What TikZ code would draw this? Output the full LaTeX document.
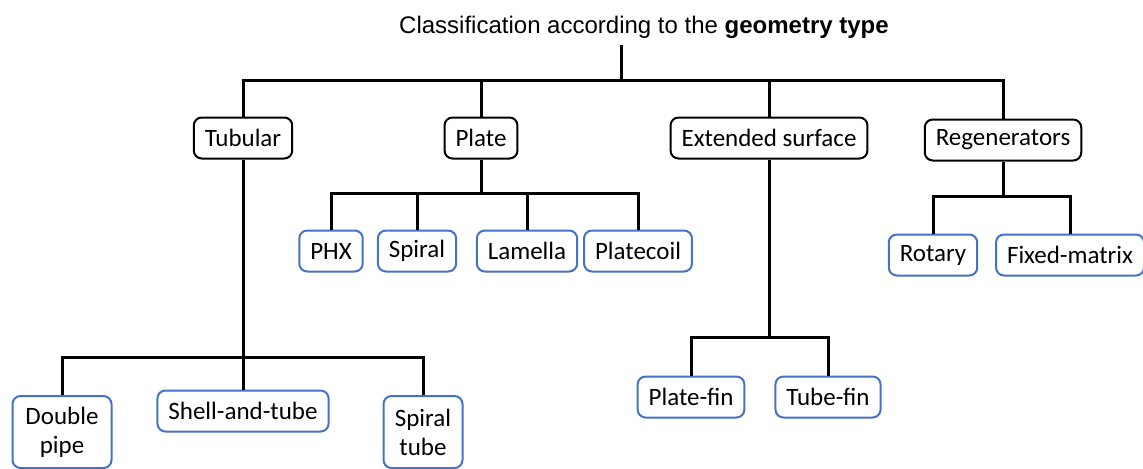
\documentclass[tikz,border=0pt]{standalone}
\usepackage{fontspec}
\setmainfont{Carlito}
\newfontfamily\headfont{Liberation Sans}
\usetikzlibrary{positioning,calc}
\definecolor{ink}{HTML}{000000}
\definecolor{leafblue}{HTML}{4472C4}
\tikzset{
  group/.style={draw=ink,rounded corners=4pt,line width=1pt,minimum height=20.5pt,inner xsep=5.5pt,font=\fontsize{12.5}{14.6}\selectfont,text=ink},
  leaf/.style={group,draw=leafblue},
  twoline/.style={leaf,align=center,minimum height=36pt,minimum width=49.5pt},
  link/.style={line width=1.5pt,draw=ink}
}
\begin{document}
\begin{tikzpicture}[x=0.5pt,y=-0.5pt]
  \useasboundingbox (0,0) rectangle (1143,468);
  \node[font=\headfont\fontsize{12}{14.4}\selectfont] (title) at (644,27) {Classification according to the \textbf{geometry type}};

  % first level
  \node[group] (tub) at (243,138) {Tubular};
  \node[group] (plate) at (481,138) {Plate};
  \node[group] (ext) at (769,138) {Extended surface};
  \node[group] (reg) at (1003,140) {Regenerators};

  % plate family
  \node[leaf] (phx) at (331,251) {PHX};
  \node[leaf] (spiral) at (417,251) {Spiral};
  \node[leaf] (lamella) at (527,251) {Lamella};
  \node[leaf] (platecoil) at (638,251) {Platecoil};

  % tubular family
  \node[twoline] (dpipe) at (62,432) {Double\\pipe};
  \node[leaf] (shell) at (243,411) {Shell-and-tube};
  \node[twoline,minimum width=39.5pt] (stube) at (423,432) {Spiral\\tube};

  % extended surface family
  \node[leaf] (pfin) at (691,397) {Plate-fin};
  \node[leaf] (tfin) at (828,397) {Tube-fin};

  % regenerators family
  \node[leaf] (rotary) at (933,255) {Rotary};
  \node[leaf] (fixed) at (1070,255) {Fixed-matrix};

  \coordinate (busA) at (621,80);
  \coordinate (busP) at (481,193);
  \coordinate (busT) at (243,357);
  \coordinate (busE) at (769,337);
  \coordinate (busR) at (1003,196);

  \draw[link] (busA |- title.south) -- (busA);
  \draw[link] (tub.north) |- (busA) -| (reg.north);
  \draw[link] (plate.north) -- (plate.north |- busA);
  \draw[link] (ext.north) -- (ext.north |- busA);

  \draw[link] (plate.south) -- (busP);
  \draw[link] (phx.north) |- (busP) -| (platecoil.north);
  \draw[link] (spiral.north) -- (spiral.north |- busP);
  \draw[link] (lamella.north) -- (lamella.north |- busP);

  \draw[link] (tub.south) -- (shell.north);
  \draw[link] (dpipe.north) |- (busT) -| (stube.north);

  \draw[link] (ext.south) -- (busE);
  \draw[link] (pfin.north) |- (busE) -| (tfin.north);

  \draw[link] (reg.south) -- (busR);
  \draw[link] (rotary.north) |- (busR) -| (fixed.north);
\end{tikzpicture}
\end{document}
